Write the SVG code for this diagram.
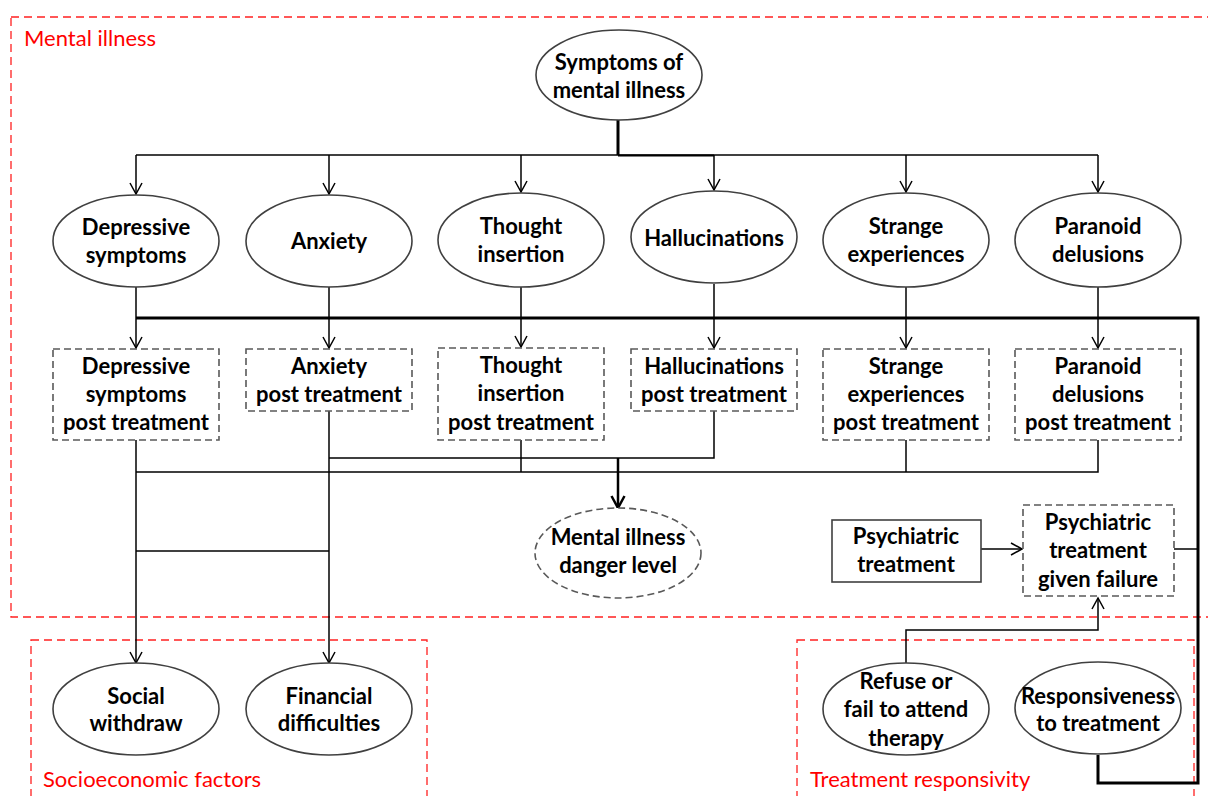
<svg xmlns="http://www.w3.org/2000/svg" width="1208" height="796" viewBox="0 0 1208 796">
<style>
.bg{fill:#ffffff}
.grp{fill:none;stroke:#ff2020;stroke-width:1.3;stroke-dasharray:8,5}
.glabel{font-family:Lato,"Open Sans","Liberation Sans",sans-serif;font-size:22px;fill:#ff0000}
.node{fill:#ffffff;stroke:#404040;stroke-width:1.6}
.dnode{fill:#ffffff;stroke:#595959;stroke-width:1.6;stroke-dasharray:7,4}
.snode{fill:#ffffff;stroke:#404040;stroke-width:1.6}
.t{font-family:Lato,"Open Sans","Liberation Sans",sans-serif;font-size:22px;font-weight:bold;fill:#000000;text-anchor:middle}
.c{fill:none;stroke:#000000;stroke-width:1.5}
.ck{fill:none;stroke:#000000;stroke-width:3}
.cm{fill:none;stroke:#000000;stroke-width:2.5}
</style>
<defs>
<marker id="arr" markerUnits="userSpaceOnUse" markerWidth="14" markerHeight="14" refX="12" refY="7" orient="auto">
<path d="M1,1 L12,7 L1,13" fill="none" stroke="#000000" stroke-width="1.5"/>
</marker>
<marker id="arrk" markerUnits="userSpaceOnUse" markerWidth="16" markerHeight="16" refX="13" refY="8" orient="auto">
<path d="M1,1.5 L13,8 L1,14.5" fill="none" stroke="#000000" stroke-width="2.5"/>
</marker>
</defs>
<rect class="bg" x="0" y="0" width="1208" height="796"/>

<g id="groups">
<rect class="grp" x="11" y="17" width="1205" height="600"/>
<text class="glabel" x="24" y="46">Mental illness</text>
<rect class="grp" x="31" y="640" width="396" height="170"/>
<text class="glabel" x="43" y="787">Socioeconomic factors</text>
<rect class="grp" x="797" y="640" width="397" height="170"/>
<text class="glabel" x="810" y="787">Treatment responsivity</text>
</g>

<g id="connectors">
<path class="ck" d="M618,120 V155"/>
<path class="c" d="M136,155 H1098"/>
<path class="c" d="M618,155.5 H714" style="stroke-width:2.2"/>
<path class="c" d="M136,155 V194" marker-end="url(#arr)"/>
<path class="c" d="M329,155 V194" marker-end="url(#arr)"/>
<path class="c" d="M521,155 V192" marker-end="url(#arr)"/>
<path class="c" d="M714,155 V190" marker-end="url(#arr)"/>
<path class="c" d="M906,155 V192" marker-end="url(#arr)"/>
<path class="c" d="M1098,155 V192" marker-end="url(#arr)"/>
<path class="c" d="M136,287 V348" marker-end="url(#arr)"/>
<path class="c" d="M329,287 V348" marker-end="url(#arr)"/>
<path class="c" d="M521,287 V347" marker-end="url(#arr)"/>
<path class="c" d="M714,284 V348" marker-end="url(#arr)"/>
<path class="c" d="M906,287 V348" marker-end="url(#arr)"/>
<path class="c" d="M1098,287 V348" marker-end="url(#arr)"/>
<path class="ck" d="M1098,755 V783 H1198 V318 H136"/>
<path class="c" d="M1174,549 H1198"/>
<path class="c" d="M981,549 H1022" marker-end="url(#arr)"/>
<path class="c" d="M906,663 V630 H1098 V598" marker-end="url(#arr)"/>
<path class="c" d="M136,440 V663" marker-end="url(#arr)"/>
<path class="c" d="M329,411 V663" marker-end="url(#arr)"/>
<path class="c" d="M136,551 H329"/>
<path class="c" d="M329,458 H714 V411"/>
<path class="c" d="M521,440 V472"/>
<path class="c" d="M136,472 H1098 V440"/>
<path class="c" d="M906,440 V472"/>
<path class="cm" d="M618,458 V508" marker-end="url(#arrk)"/>
</g>

<g id="n-symptoms">
<ellipse class="node" cx="619" cy="75" rx="83" ry="45"/>
<text class="t" x="619" y="70">Symptoms of</text>
<text class="t" x="619" y="98">mental illness</text>
</g>

<g id="n-depressive">
<ellipse class="node" cx="136" cy="241" rx="83" ry="46"/>
<text class="t" x="136" y="235">Depressive</text>
<text class="t" x="136" y="263">symptoms</text>
</g>
<g id="n-anxiety">
<ellipse class="node" cx="329" cy="241" rx="83" ry="46"/>
<text class="t" x="329" y="249">Anxiety</text>
</g>
<g id="n-thought">
<ellipse class="node" cx="521" cy="240" rx="83" ry="47"/>
<text class="t" x="521" y="234">Thought</text>
<text class="t" x="521" y="262">insertion</text>
</g>
<g id="n-halluc">
<ellipse class="node" cx="714" cy="237" rx="83" ry="46"/>
<text class="t" x="714" y="246">Hallucinations</text>
</g>
<g id="n-strange">
<ellipse class="node" cx="906" cy="240" rx="83" ry="47"/>
<text class="t" x="906" y="234">Strange</text>
<text class="t" x="906" y="262">experiences</text>
</g>
<g id="n-paranoid">
<ellipse class="node" cx="1098" cy="240" rx="83" ry="47"/>
<text class="t" x="1098" y="234">Paranoid</text>
<text class="t" x="1098" y="262">delusions</text>
</g>

<g id="n-depressive-pt">
<rect class="dnode" x="53" y="349" width="166" height="91"/>
<text class="t" x="136" y="374">Depressive</text>
<text class="t" x="136" y="402">symptoms</text>
<text class="t" x="136" y="430">post treatment</text>
</g>
<g id="n-anxiety-pt">
<rect class="dnode" x="246" y="349" width="166" height="62"/>
<text class="t" x="329" y="374">Anxiety</text>
<text class="t" x="329" y="402">post treatment</text>
</g>
<g id="n-thought-pt">
<rect class="dnode" x="438" y="348" width="166" height="92"/>
<text class="t" x="521" y="373">Thought</text>
<text class="t" x="521" y="401">insertion</text>
<text class="t" x="521" y="430">post treatment</text>
</g>
<g id="n-halluc-pt">
<rect class="dnode" x="631" y="349" width="166" height="62"/>
<text class="t" x="714" y="374">Hallucinations</text>
<text class="t" x="714" y="402">post treatment</text>
</g>
<g id="n-strange-pt">
<rect class="dnode" x="823" y="349" width="166" height="91"/>
<text class="t" x="906" y="374">Strange</text>
<text class="t" x="906" y="402">experiences</text>
<text class="t" x="906" y="430">post treatment</text>
</g>
<g id="n-paranoid-pt">
<rect class="dnode" x="1015" y="349" width="166" height="91"/>
<text class="t" x="1098" y="374">Paranoid</text>
<text class="t" x="1098" y="402">delusions</text>
<text class="t" x="1098" y="430">post treatment</text>
</g>

<g id="n-danger">
<ellipse class="dnode" cx="618" cy="553" rx="83" ry="45"/>
<text class="t" x="618" y="545">Mental illness</text>
<text class="t" x="618" y="573">danger level</text>
</g>

<g id="n-psych">
<rect class="snode" x="832" y="520" width="149" height="62"/>
<text class="t" x="906" y="544">Psychiatric</text>
<text class="t" x="906" y="572">treatment</text>
</g>
<g id="n-psych-fail">
<rect class="dnode" x="1023" y="505" width="151" height="91"/>
<text class="t" x="1098" y="530">Psychiatric</text>
<text class="t" x="1098" y="558">treatment</text>
<text class="t" x="1098" y="587">given failure</text>
</g>

<g id="n-social">
<ellipse class="node" cx="136" cy="709" rx="83" ry="46"/>
<text class="t" x="136" y="704">Social</text>
<text class="t" x="136" y="731">withdraw</text>
</g>
<g id="n-financial">
<ellipse class="node" cx="329" cy="709" rx="83" ry="46"/>
<text class="t" x="329" y="704">Financial</text>
<text class="t" x="329" y="731">difficulties</text>
</g>
<g id="n-refuse">
<ellipse class="node" cx="906" cy="709" rx="83" ry="46"/>
<text class="t" x="906" y="689">Refuse or</text>
<text class="t" x="906" y="717">fail to attend</text>
<text class="t" x="906" y="746">therapy</text>
</g>
<g id="n-responsive">
<ellipse class="node" cx="1098" cy="708" rx="83" ry="46"/>
<text class="t" x="1098" y="704">Responsiveness</text>
<text class="t" x="1098" y="731">to treatment</text>
</g>
</svg>
